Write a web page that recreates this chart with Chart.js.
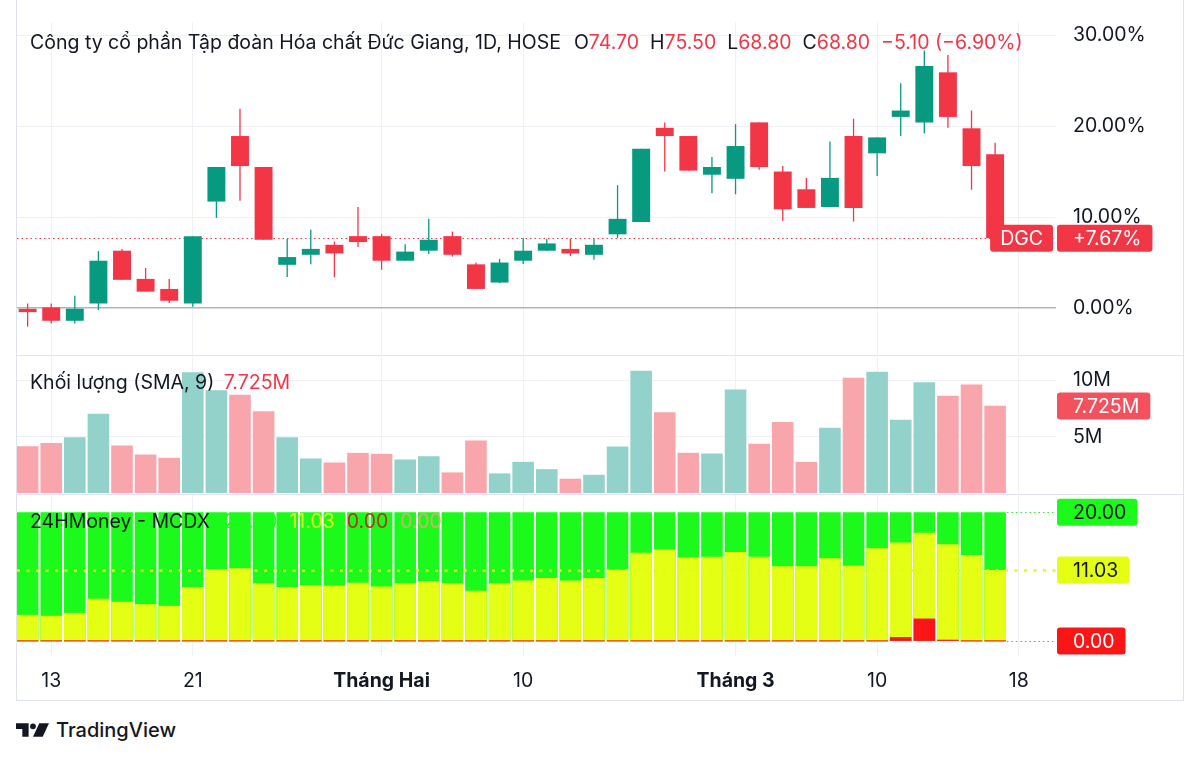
<!DOCTYPE html>
<html lang="vi">
<head>
<meta charset="utf-8">
<script src="https://cdn.jsdelivr.net/npm/chart.js@4.4.1/dist/chart.umd.min.js"></script>
<style>
  html, body { margin: 0; padding: 0; background: #fff; }
  body { width: 1200px; height: 758px; position: relative; overflow: hidden;
         font-family: Inter, "Noto Sans", sans-serif; color: #131722; }
  .frame { position: absolute; left: 16px; top: 0; width: 1168px; height: 701px;
           border: 1px solid #E0E3EB; border-top: none; box-sizing: border-box; }
  .sep { position: absolute; left: 17px; width: 1166px; height: 1px; background: #E0E3EB; }
  .pane { position: absolute; left: 0; width: 1200px; }
  .legend { position: absolute; left: 30px; font-size: 19.5px; line-height: 24px; white-space: nowrap; }
  .legend .r { color: #F23645; }
  .footer { position: absolute; left: 16px; top: 718px; display: flex; align-items: center;
            font-size: 20px; font-weight: 500; color: #131722; }
  .footer svg { margin-right: 7px; }
</style>
</head>
<body>
<div class="frame"></div>
<div class="pane" style="top:22px;height:333px"><canvas id="cPrice"></canvas></div>
<div class="sep" style="top:355px"></div>
<div class="pane" style="top:357px;height:136px"><canvas id="cVol"></canvas></div>
<div class="sep" style="top:494px"></div>
<div class="pane" style="top:495px;height:205px"><canvas id="cMcdx"></canvas></div>

<div class="legend" style="top:30px" id="legPrice"></div>
<div class="legend" style="top:370px" id="legVol"></div>
<div class="legend" style="top:509px" id="legMcdx"></div>

<div class="footer">
  <svg width="33" height="14" viewBox="0 0 34 14">
    <path d="M0 0 H13 V14 H6.5 V6 H0 Z" fill="#131722"/>
    <circle cx="17.5" cy="3.2" r="3" fill="#131722"/>
    <path d="M24 0 H34 L27.5 14 H17.5 Z" fill="#131722"/>
  </svg>
  <span>TradingView</span>
</div>

<script>
// candles, % change vs. base close
const openP  = [0.0, 0.07, -1.4, 0.5, 6.3, 3.2, 2.1, 0.5, 11.7, 18.9, 15.5, 4.75, 5.85, 6.95, 7.9, 7.9, 5.2, 6.3, 7.9, 4.8, 2.8, 5.2, 6.3, 6.5, 5.85, 8.1, 9.45, 19.8, 18.9, 14.65, 14.2, 20.4, 15.0, 13.05, 11.1, 18.9, 17.0, 21.0, 20.4, 25.9, 19.75, 16.9];
const highP  = [0.5, 0.5, 1.36, 6.25, 6.5, 4.4, 3.2, 7.9, 15.5, 21.9, 15.5, 7.6, 8.6, 7.3, 11.1, 8.15, 7.0, 9.8, 8.4, 5.0, 5.4, 7.7, 7.6, 7.6, 7.6, 13.5, 17.5, 20.4, 18.9, 16.6, 20.2, 20.4, 15.6, 14.3, 18.3, 20.8, 18.75, 24.7, 28.3, 27.8, 21.7, 18.15];
const lowP   = [-2.05, -1.7, -1.7, -0.22, 3.1, 1.8, 0.55, 0.15, 9.9, 11.8, 7.5, 3.4, 4.8, 3.4, 6.7, 4.2, 5.2, 5.95, 5.65, 2.1, 2.75, 4.85, 6.3, 5.7, 5.3, 7.7, 9.45, 15.0, 15.1, 12.6, 12.5, 15.2, 9.6, 11.0, 11.1, 9.5, 14.5, 18.9, 19.2, 19.8, 13.0, 7.67];
const closeP = [-0.45, -1.4, -0.07, 5.2, 3.1, 1.8, 0.8, 7.9, 15.5, 15.6, 7.5, 5.6, 6.5, 6.0, 7.25, 5.2, 6.2, 7.5, 5.85, 2.1, 5.0, 6.3, 7.1, 6.0, 6.95, 9.8, 17.5, 18.9, 15.1, 15.5, 17.8, 15.5, 10.85, 11.0, 14.3, 11.0, 18.75, 21.7, 26.6, 21.0, 15.6, 7.67];

// volume, millions
const volume = [4.16, 4.45, 4.96, 7.05, 4.22, 3.42, 3.13, 10.74, 9.14, 8.73, 7.26, 4.96, 3.07, 2.71, 3.57, 3.48, 2.98, 3.27, 1.83, 4.66, 1.74, 2.77, 2.12, 1.27, 1.62, 4.13, 10.86, 7.17, 3.57, 3.51, 9.2, 4.37, 6.31, 2.77, 5.81, 10.24, 10.77, 6.52, 9.85, 8.64, 9.65, 7.76];
const volSma = 7.725;

// MCDX
const mcdxGreen  = [20, 20, 20, 20, 20, 20, 20, 20, 20, 20, 20, 20, 20, 20, 20, 20, 20, 20, 20, 20, 20, 20, 20, 20, 20, 20, 20, 20, 20, 20, 20, 20, 20, 20, 20, 20, 20, 20, 20, 20, 20, 20];
const mcdxYellow = [4.05, 3.9, 4.36, 6.55, 6.08, 5.71, 5.45, 8.36, 11.17, 11.27, 8.94, 8.36, 8.68, 8.57, 9.04, 8.47, 8.94, 9.25, 8.94, 7.79, 8.94, 9.4, 9.77, 9.4, 9.77, 11.06, 13.71, 14.18, 12.94, 13.09, 13.82, 13.09, 11.58, 11.58, 12.83, 11.69, 14.39, 15.27, 16.78, 15.01, 13.35, 11.03];
const mcdxRed    = [0, 0, 0, 0, 0, 0, 0, 0, 0, 0, 0, 0, 0, 0, 0, 0, 0, 0, 0, 0, 0, 0, 0, 0, 0, 0, 0, 0, 0, 0, 0, 0, 0, 0, 0, 0, 0, 0.6, 3.48, 0.15, 0, 0];

// time axis
const tickIdx  = [1, 7, 15, 21, 30, 36, 42];
const tickText = ['13', '21', 'Tháng Hai', '10', 'Tháng 3', '10', '18'];
const priceTicks = [0, 10, 20, 30];
const volTicks = [5, 10];

// header
const symbolName = 'Công ty cổ phần Tập đoàn Hóa chất Đức Giang, 1D, HOSE';
const lastOHLC = [['O', '74.70'], ['H', '75.50'], ['L', '68.80'], ['C', '68.80']];
const lastChange = '−5.10 (−6.90%)';

const UP = '#089981', DOWN = '#F23645';
const VOL_UP = '#92D2CA', VOL_DOWN = '#F8A6AC';
const GREEN = '#1CFA1C', YELLOW = '#E4FF14', RED = '#FA1616';
const FONT = 'Inter, "Noto Sans", sans-serif';
const FS = 19.5;

const last = closeP.length - 1;
const isUp = closeP.map((c, i) => c >= openP[i]);

// legends (html text)
document.getElementById('legPrice').innerHTML = symbolName +
  lastOHLC.map((p, i) => `<span style="margin-left:${i === 0 ? 13 : 11}px">${p[0]}<span class="r">${p[1]}</span></span>`).join('') +
  `<span class="r" style="margin-left:11px">${lastChange}</span>`;
document.getElementById('legVol').innerHTML = `Khối lượng (SMA, 9) <span class="r" style="margin-left:4px">${volSma.toFixed(3)}M</span>`;
document.getElementById('legMcdx').innerHTML = `24HMoney - MCDX` +
  `<span style="color:${GREEN};margin-left:14px">${mcdxGreen[last].toFixed(2)}</span>` +
  `<span style="color:#DDF51E;margin-left:12px">${mcdxYellow[last].toFixed(2)}</span>` +
  `<span style="color:#B8321A;margin-left:12px">${mcdxRed[last].toFixed(2)}</span>` +
  `<span style="color:#C9B56A;margin-left:12px">${(0).toFixed(2)}</span>`;

// horizontal reference lines
const refLines = {
  id: 'refLines',
  beforeDatasetsDraw(chart, args, opts) { drawLines(chart, opts.below); },
  afterDatasetsDraw(chart, args, opts) { drawLines(chart, opts.above); }
};
function drawLines(chart, lines) {
  if (!lines) return;
  const { ctx, chartArea, scales } = chart;
  lines.forEach(l => {
    const y = Math.round(scales.y.getPixelForValue(l.value)) + 0.5;
    const x0 = l.fromLast ? scales.x.getPixelForValue(last + 0.5) : chartArea.left;
    ctx.save();
    ctx.strokeStyle = l.color;
    ctx.lineWidth = l.width;
    ctx.setLineDash(l.dash);
    ctx.beginPath();
    ctx.moveTo(x0, y);
    ctx.lineTo(chartArea.right, y);
    ctx.stroke();
    ctx.restore();
  });
}

// coloured tags on the right scale
const axisTags = {
  id: 'axisTags',
  afterDraw(chart, args, opts) {
    const { ctx, chartArea, scales } = chart;
    (opts.tags || []).forEach(t => {
      const y = scales.y.getPixelForValue(t.value);
      ctx.save();
      ctx.font = `${FS}px ${FONT}`;
      ctx.textBaseline = 'middle';
      const w = ctx.measureText(t.text).width;
      ctx.fillStyle = t.bg;
      ctx.beginPath();
      ctx.roundRect(chartArea.right + 1, y - 13.5, w + 27, 27, 3);
      ctx.fill();
      ctx.fillStyle = t.color;
      ctx.textAlign = 'left';
      ctx.fillText(t.text, chartArea.right + 17, y + 1);
      if (t.name) {
        const nw = ctx.measureText(t.name).width + 20;
        ctx.fillStyle = t.bg;
        ctx.beginPath();
        ctx.roundRect(chartArea.right - 3 - nw, y - 13.5, nw, 27, 3);
        ctx.fill();
        ctx.fillStyle = t.color;
        ctx.textAlign = 'center';
        ctx.fillText(t.name, chartArea.right - 3 - nw / 2, y + 1);
      }
      ctx.restore();
    });
  }
};

function xScale(showLabels) {
  return {
    type: 'linear', min: -0.45, max: 43.58, offset: false,
    afterBuildTicks: s => { s.ticks = tickIdx.map(v => ({ value: v })); },
    afterFit: s => { s.height = showLabels ? 44 : 0; s.paddingLeft = 0; s.paddingRight = 0; },
    border: { display: false },
    grid: { color: '#EFF1F6', drawTicks: false, offset: false },
    ticks: {
      display: showLabels, padding: 13, maxRotation: 0, autoSkip: false, color: '#131722',
      font: ctx => ({ family: FONT, size: FS, weight: String(ctx.tick && ctx.tick.label).startsWith('Tháng') ? '700' : '400' }),
      callback: v => tickText[tickIdx.indexOf(v)]
    }
  };
}
function yScale(min, max, ticks, fmt) {
  return {
    position: 'right', min, max,
    afterBuildTicks: s => { s.ticks = ticks.map(v => ({ value: v })); },
    afterFit: s => { s.width = 128; s.paddingTop = 0; s.paddingBottom = 0; },
    border: { display: false },
    grid: { drawTicks: false, color: '#EFF1F6', display: ticks.length > 0 },
    ticks: { display: ticks.length > 0, padding: 17, color: '#131722', font: { family: FONT, size: FS }, callback: fmt }
  };
}
const baseOpts = {
  responsive: true, maintainAspectRatio: false, animation: false,
  layout: { padding: { left: 17, right: 16, top: 0, bottom: 0 } },
  events: []
};

new Chart(document.getElementById('cPrice'), {
  type: 'bar',
  data: {
    datasets: [{
      data: openP.map((o, i) => ({ x: i, y: [o, closeP[i]] })),
      backgroundColor: isUp.map(u => u ? UP : DOWN),
      grouped: false, categoryPercentage: 1, barPercentage: 0.76, minBarLength: 2
    }, {
      data: lowP.map((l, i) => ({ x: i, y: [l, highP[i]] })),
      backgroundColor: isUp.map(u => u ? UP : DOWN),
      grouped: false, categoryPercentage: 1, barPercentage: 0.5, maxBarThickness: 1.3
    }]
  },
  options: Object.assign({}, baseOpts, {
    scales: {
      x: xScale(false),
      y: Object.assign(yScale(-5.16, 31.43, priceTicks, v => v.toFixed(2) + '%'), {
        grid: { drawTicks: false, color: c => c.tick && c.tick.value === 0 ? '#B2B5BE' : '#EFF1F6', lineWidth: c => c.tick && c.tick.value === 0 ? 1.5 : 1 }
      })
    },
    plugins: {
      legend: { display: false }, tooltip: { enabled: false },
      refLines: { below: [{ value: closeP[last], color: DOWN, width: 1, dash: [1.5, 3] }] },
      axisTags: { tags: [{ value: closeP[last], text: '+' + closeP[last].toFixed(2) + '%', name: 'DGC', bg: DOWN, color: '#fff' }] }
    }
  }),
  plugins: [refLines, axisTags]
});

new Chart(document.getElementById('cVol'), {
  type: 'bar',
  data: {
    datasets: [{
      data: volume.map((v, i) => ({ x: i, y: v })),
      backgroundColor: isUp.map(u => u ? VOL_UP : VOL_DOWN),
      categoryPercentage: 1, barPercentage: 0.915
    }]
  },
  options: Object.assign({}, baseOpts, {
    scales: {
      x: xScale(false),
      y: yScale(0, 12.09, volTicks, v => v + 'M')
    },
    plugins: {
      legend: { display: false }, tooltip: { enabled: false },
      axisTags: { tags: [{ value: volSma, text: volSma.toFixed(3) + 'M', bg: '#F4515F', color: '#fff' }] }
    }
  }),
  plugins: [axisTags]
});

new Chart(document.getElementById('cMcdx'), {
  type: 'bar',
  data: {
    datasets: [{
      data: mcdxRed.map((v, i) => ({ x: i, y: v })),
      backgroundColor: RED, grouped: false, categoryPercentage: 1, barPercentage: 0.915, minBarLength: 1.2
    }, {
      data: mcdxYellow.map((v, i) => ({ x: i, y: v })),
      backgroundColor: YELLOW, grouped: false, categoryPercentage: 1, barPercentage: 0.915
    }, {
      data: mcdxGreen.map((v, i) => ({ x: i, y: v })),
      backgroundColor: GREEN, grouped: false, categoryPercentage: 1, barPercentage: 0.915
    }]
  },
  options: Object.assign({}, baseOpts, {
    scales: {
      x: xScale(true),
      y: yScale(-2.34, 22.66, [], v => v)
    },
    plugins: {
      legend: { display: false }, tooltip: { enabled: false },
      refLines: { above: [
        { value: mcdxYellow[last], color: '#E8F51E', width: 2.5, dash: [3, 6.5] },
        { value: mcdxGreen[last], color: '#3CE03C', width: 1.2, dash: [1.5, 3], fromLast: true },
        { value: mcdxRed[last], color: '#F06060', width: 1.2, dash: [1.5, 3], fromLast: true }
      ] },
      axisTags: { tags: [
        { value: mcdxGreen[last], text: mcdxGreen[last].toFixed(2), bg: GREEN, color: '#131722' },
        { value: mcdxYellow[last], text: mcdxYellow[last].toFixed(2), bg: YELLOW, color: '#131722' },
        { value: mcdxRed[last], text: mcdxRed[last].toFixed(2), bg: RED, color: '#fff' }
      ] }
    }
  }),
  plugins: [refLines, axisTags]
});
</script>
</body>
</html>
